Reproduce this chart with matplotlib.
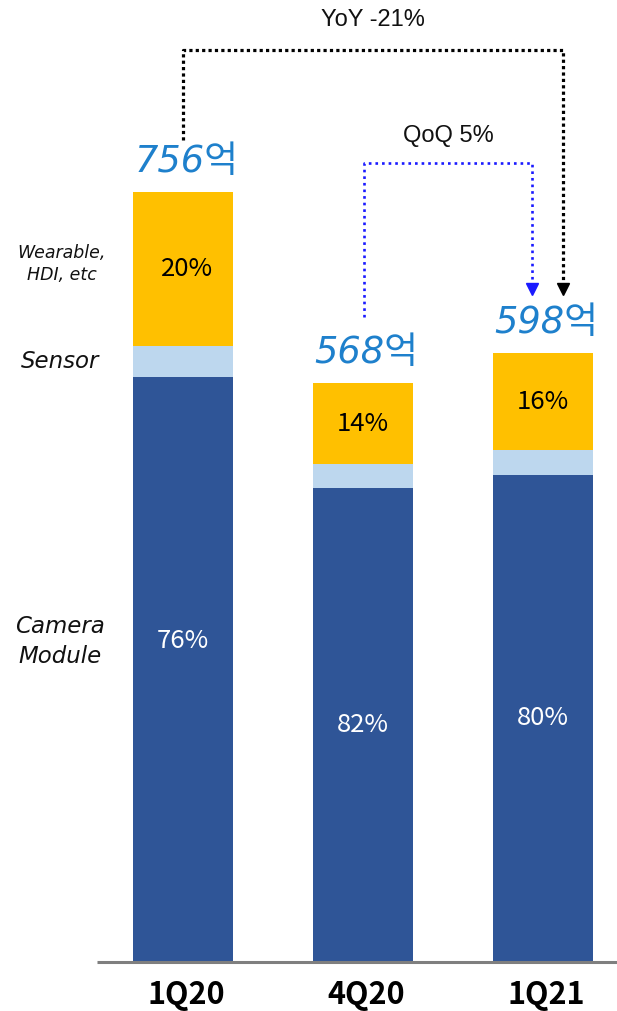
import matplotlib
matplotlib.use("Agg")
import matplotlib.pyplot as plt
import numpy as np

# ---- data ----
quarters = ["1Q20", "4Q20", "1Q21"]
totals = [756, 568, 598]                 # 억원
camera_pct = [76, 82, 80]
sensor_pct = [4, 4, 4]
wearable_pct = [20, 14, 16]
segment_names = ["Camera\nModule", "Sensor", "Wearable,\nHDI, etc"]

# ---- styles ----
C_CAM = "#2F5597"
C_SEN = "#BDD7EE"
C_WEA = "#FFC000"
C_VAL = "#1E80CC"
BAR_W = 0.556
PX = 180.0          # px per category unit
PY = 1.0185         # px per value unit

fig = plt.figure(figsize=(6.17, 10.11), dpi=100)
ax = fig.add_axes([0, 0, 1, 1])
ax.set_xlim(-183 / PX, (617 - 183) / PX)
ax.set_ylim(-49 / PY, 962 / PY)
ax.axis("off")

x = np.arange(len(quarters))
tot = np.array(totals, float)
cam = tot * np.array(camera_pct) / 100
sen = tot * np.array(sensor_pct) / 100
wea = tot * np.array(wearable_pct) / 100

ax.bar(x, cam, BAR_W, color=C_CAM, zorder=2)
ax.bar(x, sen, BAR_W, bottom=cam, color=C_SEN, zorder=2)
ax.bar(x, wea, BAR_W, bottom=cam + sen, color=C_WEA, zorder=2)

# baseline
ax.plot([-86 / PX, (617 - 183) / PX], [0, 0], color="#7F7F7F", lw=2.2,
        zorder=3, solid_capstyle="butt", clip_on=False)

pct_font = ["Noto Sans CJK KR", "DejaVu Sans"]
cam_frac = [0.548, 0.5, 0.5]
for i in range(len(quarters)):
    ax.text(x[i], cam[i] * cam_frac[i], f"{camera_pct[i]}%", color="white",
            ha="center", va="center", fontsize=18.5, family=pct_font, zorder=4)
    ax.text(x[i] + (0.02 if i == 0 else 0), cam[i] + sen[i] + wea[i] / 2,
            f"{wearable_pct[i]}%", color="black", fontweight="medium",
            ha="center", va="center", fontsize=18.5, family=pct_font, zorder=4)
    ax.text(x[i] + 0.02, tot[i] + 12, f"{totals[i]}억", color=C_VAL, ha="center",
            va="bottom", fontsize=26.5, style="italic",
            family=["DejaVu Sans", "Noto Sans CJK KR"], zorder=4)
    ax.text(x[i] + 0.02, -32, quarters[i], ha="center", va="center", fontsize=22,
            fontweight="bold", family=pct_font, color="black")

# left segment labels
lx = (60 - 183) / PX
ax.text(lx, cam[0] * cam_frac[0], segment_names[0], ha="center", va="center",
        fontsize=16.5, style="italic", family="DejaVu Sans", linespacing=1.4,
        color="#111111")
ax.text(lx, cam[0] + sen[0] / 2, segment_names[1], ha="center", va="center",
        fontsize=16.5, style="italic", family="DejaVu Sans", color="#111111")
ax.text(lx + 0.01, cam[0] + sen[0] + wea[0] / 2 + 5, segment_names[2],
        ha="center", va="center", fontsize=12.5, style="italic",
        family="DejaVu Sans", linespacing=1.3, color="#111111")

# YoY bracket
yoy = round((totals[2] / totals[0] - 1) * 100)
qoq = round((totals[2] / totals[1] - 1) * 100)

xl, xr = x[0], x[2] + 0.111
yb, yt, ytip = tot[0] + 51, 895, tot[2] + 57
ax.plot([xl, xl, xr, xr], [yb, yt, yt, ytip + 6], color="black", lw=2.3,
        ls=(0, (1, 1)), zorder=5)
ax.plot([xr], [ytip + 6], marker="v", color="black", markersize=9, zorder=5)
ax.text((xl + xr) / 2, 925, f"YoY {yoy}%", ha="center", va="center",
        fontsize=17, family="Liberation Sans", color="#111111")

# QoQ bracket
bl, br = x[1] + 0.006, x[2] - 0.06
bb, bt = tot[1] + 65, 784.5
ax.plot([bl, bl, br, br], [bb, bt, bt, ytip + 6], color="#1A1AFF", lw=1.9,
        ls=(0, (1, 1.5)), zorder=5)
ax.plot([br], [ytip + 6], marker="v", color="#1A1AFF", markersize=9, zorder=5)
ax.text((bl + br) / 2, 811, f"QoQ {qoq}%", ha="center", va="center",
        fontsize=17, family="Liberation Sans", color="#111111")

fig.savefig("out.png", dpi=100)
